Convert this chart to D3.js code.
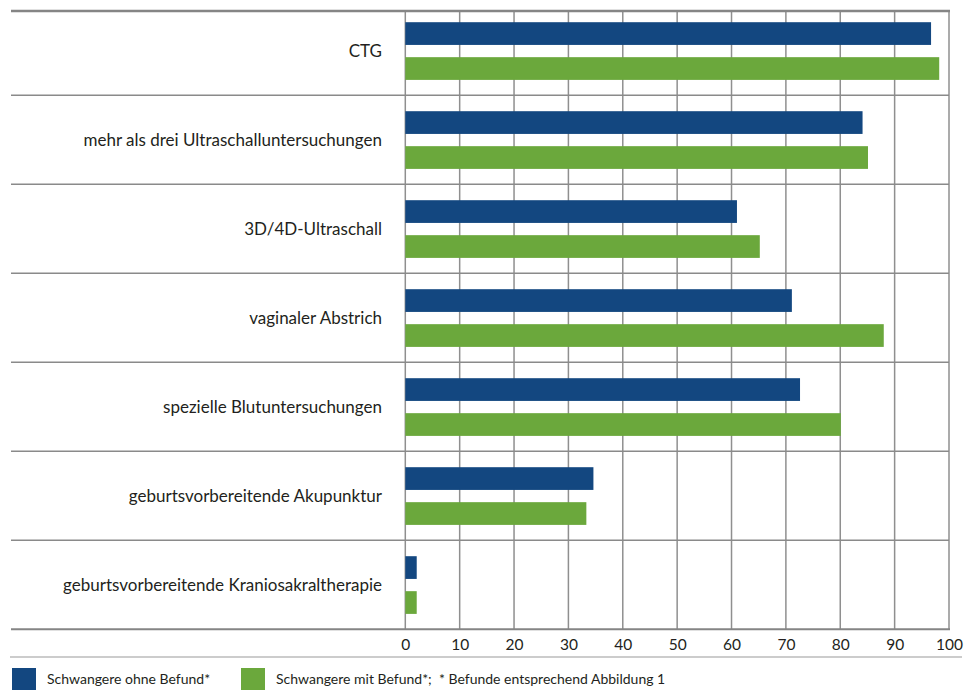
<!DOCTYPE html>
<html><head><meta charset="utf-8">
<script src="https://cdn.jsdelivr.net/npm/d3@7"></script>
<style>
html,body{margin:0;padding:0;background:#fff;}
svg{display:block;}
text{font-family:Lato,"Open Sans",sans-serif;fill:#231f20;}
</style></head>
<body>
<svg id="chart" width="964" height="691"></svg>
<script>
const categories = ["CTG","mehr als drei Ultraschalluntersuchungen","3D/4D-Ultraschall","vaginaler Abstrich","spezielle Blutuntersuchungen","geburtsvorbereitende Akupunktur","geburtsvorbereitende Kraniosakraltherapie"];
const seriesNames = ["Schwangere ohne Befund*","Schwangere mit Befund*"];
const ohneBefund = [96.7, 84.1, 61.0, 71.1, 72.6, 34.6, 2.1];
const mitBefund  = [98.2, 85.1, 65.2, 88.0, 80.1, 33.3, 2.1];
const xTicks = [0,10,20,30,40,50,60,70,80,90,100];
const legendNote = "* Befunde entsprechend Abbildung 1";
const colors = ["#134780","#6ba83c"];

(function(){
const svg = d3.select("#chart");
const mLeft = 11, xStart = 405.3, xEnd = 949, pTop = 6.3, pBottom = 629.3;

const x = d3.scaleLinear().domain([0,100]).range([xStart,xEnd]);
const y0 = d3.scaleBand().domain(categories).range([pTop,pBottom]).padding(0);
const y1 = d3.scaleBand().domain(seriesNames).range([15.9, 15.9+57.7]).paddingInner(0.35).paddingOuter(0);

const data = categories.map((c,i)=>({cat:c, vals:[ohneBefund[i], mitBefund[i]]}));

// vertical grid
svg.append("g").selectAll("line").data(xTicks).join("line")
  .attr("x1",d=>x(d)).attr("x2",d=>x(d)).attr("y1",11).attr("y2",pBottom)
  .attr("stroke","#8f8f8f").attr("stroke-width",1.5);

// horizontal separators
svg.append("g").selectAll("line").data(categories.slice(1)).join("line")
  .attr("x1",mLeft).attr("x2",xEnd).attr("y1",d=>y0(d)).attr("y2",d=>y0(d))
  .attr("stroke","#8a8a8a").attr("stroke-width",1.5);

// top line
svg.append("line").attr("x1",mLeft).attr("x2",xEnd+1).attr("y1",11).attr("y2",11)
  .attr("stroke","#858585").attr("stroke-width",2.5);
// bottom axis line
svg.append("line").attr("x1",mLeft).attr("x2",xEnd+1).attr("y1",pBottom).attr("y2",pBottom)
  .attr("stroke","#858585").attr("stroke-width",2);

// bars
const groups = svg.append("g").selectAll("g").data(data).join("g")
  .attr("transform",d=>`translate(0,${y0(d.cat)})`);
groups.selectAll("rect").data(d=>d.vals.map((v,j)=>({v, s:seriesNames[j], j}))).join("rect")
  .attr("x",x(0)).attr("y",d=>y1(d.s)).attr("height",y1.bandwidth())
  .attr("width",d=>x(d.v)-x(0)).attr("fill",d=>colors[d.j]);

// category labels
svg.append("g").selectAll("text").data(categories).join("text")
  .attr("x",382).attr("y",d=>y0(d)+y0.bandwidth()/2).attr("dy","0.35em")
  .attr("text-anchor","end").attr("font-size",17).text(d=>d);

// x axis tick labels
const axis = d3.axisBottom(x).tickValues(xTicks).tickSize(0).tickPadding(10);
const ag = svg.append("g").attr("transform",`translate(0,${pBottom})`).call(axis);
ag.select(".domain").remove();
ag.selectAll("text").attr("font-size",15.5).style("font-family","Lato,'Open Sans',sans-serif").attr("fill","#231f20");

// legend separator
svg.append("line").attr("x1",10).attr("x2",962).attr("y1",657).attr("y2",657)
  .attr("stroke","#9a9a9a").attr("stroke-width",1.2);

const legendX = [12, 241];
const lg = svg.append("g").selectAll("g").data(seriesNames).join("g")
  .attr("transform",(d,i)=>`translate(${legendX[i]},668)`);
lg.append("rect").attr("width",24).attr("height",22).attr("fill",(d,i)=>colors[i]);
lg.append("text").attr("x",35).attr("y",16).attr("font-size",14)
  .style("white-space","pre")
  .text((d,i)=> i===1 ? d + ";  " + legendNote : d);
})();
</script>
</body></html>
